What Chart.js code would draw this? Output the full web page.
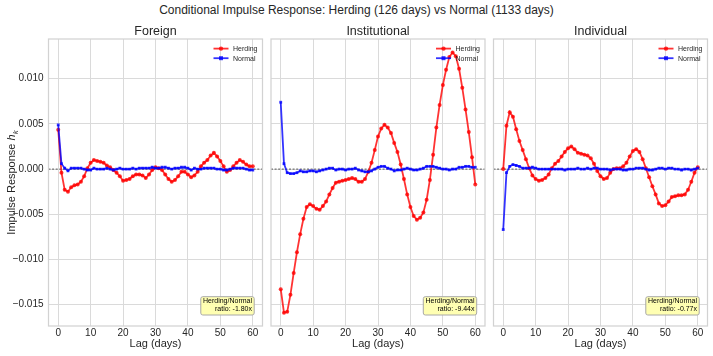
<!DOCTYPE html>
<html>
<head>
<meta charset="utf-8">
<script src="https://cdn.jsdelivr.net/npm/chart.js@4.4.1/dist/chart.umd.min.js"></script>
<style>
body { margin: 0; background: #fff; font-family: "Liberation Sans", Arial, sans-serif; }
#wrap { position: relative; width: 713px; height: 356px; }
#wrap canvas { position: absolute; left: 0; top: 0; }
#title { position: absolute; left: 0; top: 3px; width: 713px; text-align: center; font-size: 12px; line-height: 15px; color: #262626; }
</style>
</head>
<body>
<div id="wrap">
  <div id="title">Conditional Impulse Response: Herding (126 days) vs Normal (1133 days)</div>
  <canvas id="c0" width="713" height="356"></canvas>
  <canvas id="c1" width="713" height="356"></canvas>
  <canvas id="c2" width="713" height="356"></canvas>
</div>
<script>
// lags 0..60
var lags = [0,1,2,3,4,5,6,7,8,9,10,11,12,13,14,15,16,17,18,19,20,
  21,22,23,24,25,26,27,28,29,30,31,32,33,34,35,36,37,38,39,40,
  41,42,43,44,45,46,47,48,49,50,51,52,53,54,55,56,57,58,59,60];

var groups = ['Foreign', 'Institutional', 'Individual'];
var ratios = [-1.80, -9.44, -0.77];

var foreignHerding = [0.00435, -0.0004, -0.0023, -0.0025, -0.0020, -0.0018, -0.0017, -0.0014, -0.0008, 0.0001,
  0.0007, 0.0010, 0.0009, 0.0008, 0.0007, 0.0004, 0.0002, -0.0001, -0.0004, -0.0008,
  -0.0013, -0.0012, -0.0011, -0.0008, -0.0006, -0.0006, -0.0007, -0.0010, -0.0006, -0.0001,
  0.0002, 0.0001, -0.0001, -0.0006, -0.0011, -0.0014, -0.0012, -0.0008, -0.0003, -0.0003,
  -0.0006, -0.0009, -0.0007, -0.0003, 0.0003, 0.0007, 0.0010, 0.0015, 0.0018, 0.0014,
  0.0009, 0.0003, -0.0003, -0.0001, 0.0003, 0.0007, 0.0010, 0.0008, 0.0005, 0.0003, 0.0003];
var foreignNormal = [0.0049, 0.0006, 0.0001, -0.0002, 0.0001, 0.0001, 0.0001, 0.0001, 0.0000, -0.0001,
  -0.0001, 0.0001, 0.0000, 0.0000, 0.0000, 0.0001, 0.0000, -0.0001, 0.0000, 0.0001,
  0.0000, 0.0000, 0.0000, 0.0001, 0.0000, 0.0001, 0.0001, 0.0001, 0.0001, 0.0002,
  0.0001, 0.0001, 0.0002, 0.0002, 0.0001, 0.0000, 0.0001, 0.0001, 0.0002, 0.0002,
  0.0001, -0.0001, 0.0001, 0.0000, 0.0000, 0.0001, 0.0001, 0.0001, 0.0001, 0.0000,
  0.0000, -0.0001, -0.0001, 0.0000, 0.0001, 0.0001, 0.0001, 0.0001, 0.0000, -0.0001, -0.0001];

var instHerding = [-0.0133, -0.0159, -0.0158, -0.0139, -0.0115, -0.0092, -0.0072, -0.0055, -0.0042, -0.0039,
  -0.0041, -0.0044, -0.0045, -0.0041, -0.0036, -0.0028, -0.0021, -0.0015, -0.0014, -0.0013,
  -0.0012, -0.0011, -0.0010, -0.0011, -0.0014, -0.0014, -0.0011, -0.0003, 0.0007, 0.0021,
  0.0036, 0.0045, 0.0049, 0.0046, 0.0040, 0.0029, 0.0019, 0.0005, -0.0011, -0.0028,
  -0.0042, -0.0052, -0.0056, -0.0054, -0.0048, -0.0034, -0.0012, 0.0016, 0.0046, 0.0071,
  0.0093, 0.0110, 0.0124, 0.0129, 0.0125, 0.0111, 0.0090, 0.0066, 0.0041, 0.0013, -0.0017];
var instNormal = [0.0074, 0.0006, -0.0004, -0.0005, -0.0005, -0.0004, -0.0002, -0.0003, -0.0003, -0.0002,
  -0.0002, -0.0003, -0.0002, -0.0001, 0.0000, 0.0001, 0.0001, -0.0001, 0.0000, 0.0000,
  -0.0001, 0.0000, 0.0000, 0.0001, -0.0001, -0.0002, -0.0003, -0.0003, -0.0002, 0.0000,
  0.0002, 0.0003, 0.0003, 0.0001, 0.0000, -0.0002, -0.0001, -0.0001, 0.0000, 0.0001,
  0.0000, -0.0001, -0.0001, 0.0000, 0.0001, 0.0003, 0.0003, 0.0003, 0.0002, 0.0001,
  0.0000, 0.0000, -0.0001, 0.0000, 0.0000, 0.0002, 0.0002, 0.0003, 0.0003, 0.0002, 0.0002];

var indivHerding = [0.0000, 0.0048, 0.0063, 0.0058, 0.0044, 0.0031, 0.0021, 0.0011, 0.0001, -0.0007,
  -0.0011, -0.0013, -0.0012, -0.0010, -0.0006, 0.0001, 0.0006, 0.0009, 0.0014, 0.0019,
  0.0023, 0.0025, 0.0022, 0.0018, 0.0017, 0.0016, 0.0015, 0.0012, 0.0006, -0.0002,
  -0.0008, -0.0011, -0.0010, -0.0004, 0.0000, 0.0001, 0.0001, 0.0003, 0.0007, 0.0014,
  0.0020, 0.0022, 0.0019, 0.0011, 0.0001, -0.0009, -0.0019, -0.0028, -0.0038, -0.0041,
  -0.0040, -0.0036, -0.0031, -0.0030, -0.0029, -0.0029, -0.0028, -0.0023, -0.0014, -0.0004, 0.0002];
var indivNormal = [-0.0067, -0.0004, 0.0003, 0.0005, 0.0004, 0.0003, 0.0001, 0.0001, 0.0001, 0.0002,
  0.0001, 0.0000, 0.0000, 0.0000, 0.0000, 0.0000, 0.0000, 0.0000, 0.0000, -0.0001,
  0.0000, 0.0000, 0.0000, 0.0001, 0.0000, 0.0000, 0.0001, 0.0000, 0.0001, 0.0001,
  0.0000, 0.0000, 0.0000, -0.0001, 0.0000, 0.0000, 0.0000, -0.0001, -0.0001, 0.0000,
  0.0000, 0.0001, 0.0001, 0.0001, 0.0000, -0.0001, -0.0001, 0.0000, 0.0001, 0.0001,
  0.0000, 0.0001, 0.0001, 0.0000, 0.0000, -0.0001, 0.0000, 0.0000, -0.0001, 0.0000, 0.0001];

var herdingSeries = [foreignHerding, instHerding, indivHerding];
var normalSeries = [foreignNormal, instNormal, indivNormal];

var xTicks = [0, 10, 20, 30, 40, 50, 60];
var yTicks = [-0.015, -0.010, -0.005, 0.000, 0.005, 0.010];

// panel boxes (left, right) in page pixels
var boxes = [[48.5, 262.5], [271, 485], [493.5, 707.5]];
var W = 713;
var textCol = '#262626';
var gridCol = '#dadada';
var FONT = '"Liberation Sans", Arial, sans-serif';

function pts(vals) {
  return vals.map(function (v, i) { return { x: lags[i], y: v }; });
}

var panelDeco = {
  id: 'panelDeco',
  beforeDatasetsDraw: function (chart) {
    var ctx = chart.ctx, a = chart.chartArea;
    var y0 = chart.scales.y.getPixelForValue(0);
    ctx.save();
    ctx.strokeStyle = 'rgba(0,0,0,0.8)';
    ctx.lineWidth = 0.8;
    ctx.setLineDash([2, 1.6]);
    ctx.beginPath();
    ctx.moveTo(a.left, y0);
    ctx.lineTo(a.right, y0);
    ctx.stroke();
    ctx.restore();
  },
  afterDraw: function (chart, args, o) {
    var ctx = chart.ctx, a = chart.chartArea;
    ctx.save();
    // frame
    ctx.strokeStyle = '#d2d2d2';
    ctx.lineWidth = 1.25;
    ctx.strokeRect(a.left, a.top, a.right - a.left, a.bottom - a.top);

    // subplot title
    ctx.fillStyle = textCol;
    ctx.font = '12.5px ' + FONT;
    ctx.textAlign = 'center';
    ctx.textBaseline = 'middle';
    ctx.fillText(o.title, (a.left + a.right) / 2, 31.5);

    // legend
    ctx.font = '7px ' + FONT;
    ctx.textAlign = 'left';
    chart.data.datasets.forEach(function (ds, i) {
      var yy = a.top + 9.6 + i * 9.6;
      var x1 = a.right - 49, x2 = a.right - 34, xm = (x1 + x2) / 2;
      ctx.strokeStyle = ds.borderColor;
      ctx.lineWidth = ds.borderWidth;
      ctx.beginPath(); ctx.moveTo(x1, yy); ctx.lineTo(x2, yy); ctx.stroke();
      ctx.fillStyle = ds.borderColor;
      if (ds.pointStyle === 'rect') {
        ctx.fillRect(xm - 2, yy - 2, 4, 4);
      } else {
        ctx.beginPath(); ctx.arc(xm, yy, 2.2, 0, Math.PI * 2); ctx.fill();
      }
      ctx.fillStyle = textCol;
      ctx.fillText(ds.label, a.right - 29.5, yy + 0.5);
    });

    // ratio box
    var l1 = 'Herding/Normal', l2 = 'ratio: ' + o.ratio.toFixed(2) + 'x';
    ctx.font = '7px ' + FONT;
    var tw = Math.max(ctx.measureText(l1).width, ctx.measureText(l2).width);
    var bx2 = a.right - 8.3, by2 = a.bottom - 11, by1 = a.bottom - 29.3;
    var bx1 = bx2 - tw - 4.4;
    ctx.fillStyle = 'rgba(255,255,170,0.9)';
    ctx.strokeStyle = '#a8a8a8';
    ctx.lineWidth = 1;
    ctx.beginPath();
    ctx.roundRect(bx1, by1, bx2 - bx1, by2 - by1, 2);
    ctx.fill(); ctx.stroke();
    ctx.fillStyle = '#000';
    ctx.textAlign = 'right';
    ctx.fillText(l1, bx2 - 2.2, a.bottom - 25);
    ctx.fillText(l2, bx2 - 2.2, a.bottom - 17);

    // y label (first panel only)
    if (o.yLabel) {
      ctx.translate(11, (a.top + a.bottom) / 2);
      ctx.rotate(-Math.PI / 2);
      ctx.fillStyle = textCol;
      var t1 = 'Impulse Response ';
      ctx.font = '11px ' + FONT;
      var w1 = ctx.measureText(t1).width;
      ctx.font = 'italic 11px ' + FONT;
      var w2 = ctx.measureText('h').width;
      ctx.font = 'italic 8px ' + FONT;
      var w3 = ctx.measureText('k').width;
      var x0 = -(w1 + w2 + w3) / 2;
      ctx.textAlign = 'left';
      ctx.textBaseline = 'alphabetic';
      ctx.font = '11px ' + FONT;
      ctx.fillText(t1, x0, 4);
      ctx.font = 'italic 11px ' + FONT;
      ctx.fillText('h', x0 + w1, 4);
      ctx.font = 'italic 8px ' + FONT;
      ctx.fillText('k', x0 + w1 + w2, 6.5);
    }
    ctx.restore();
  }
};

function makePanel(idx) {
  var first = idx === 0;
  var box = boxes[idx];
  var ctx = document.getElementById('c' + idx).getContext('2d');
  return new Chart(ctx, {
    type: 'line',
    data: {
      datasets: [{
        label: 'Herding',
        data: pts(herdingSeries[idx]),
        borderColor: 'rgba(255,0,0,0.8)',
        backgroundColor: 'rgba(255,0,0,0.8)',
        borderWidth: 1.8,
        pointStyle: 'circle',
        pointRadius: 2,
        pointBorderWidth: 0,
        order: 1
      }, {
        label: 'Normal',
        data: pts(normalSeries[idx]),
        borderColor: 'rgba(0,0,255,0.8)',
        backgroundColor: 'rgba(0,0,255,0.8)',
        borderWidth: 1.8,
        pointStyle: 'rect',
        pointRadius: 2,
        pointBorderWidth: 0,
        order: 0
      }]
    },
    options: {
      responsive: false,
      animation: false,
      events: [],
      layout: { padding: { left: first ? 0 : box[0], right: W - box[1], top: 39, bottom: 0 } },
      scales: {
        x: {
          type: 'linear',
          min: -3,
          max: 63,
          afterBuildTicks: function (s) { s.ticks = xTicks.map(function (v) { return { value: v }; }); },
          afterFit: function (s) { s.height = 30; },
          grid: { color: gridCol, lineWidth: 1, drawTicks: false },
          border: { display: false },
          ticks: { color: textCol, font: { size: 10, family: FONT }, padding: 1, maxRotation: 0,
                   callback: function (v) { return String(v); } },
          title: { display: true, text: 'Lag (days)', color: textCol, font: { size: 11, family: FONT },
                   padding: { top: 0, bottom: 5.5 } }
        },
        y: {
          min: -0.01737,
          max: 0.0144,
          afterBuildTicks: function (s) { s.ticks = yTicks.map(function (v) { return { value: v }; }); },
          afterFit: function (s) { s.width = first ? box[0] : 0; },
          grid: { color: gridCol, lineWidth: 1, drawTicks: false },
          border: { display: false },
          ticks: {
            display: first,
            color: textCol,
            font: { size: 10, family: FONT },
            padding: 5,
            callback: function (v) {
              return (v < -1e-9 ? '\u2212' : '') + Math.abs(v).toFixed(3);
            }
          }
        }
      },
      plugins: {
        legend: { display: false },
        tooltip: { enabled: false },
        panelDeco: { title: groups[idx], ratio: ratios[idx], yLabel: first }
      }
    },
    plugins: [panelDeco]
  });
}

makePanel(0);
makePanel(1);
makePanel(2);
</script>
</body>
</html>
